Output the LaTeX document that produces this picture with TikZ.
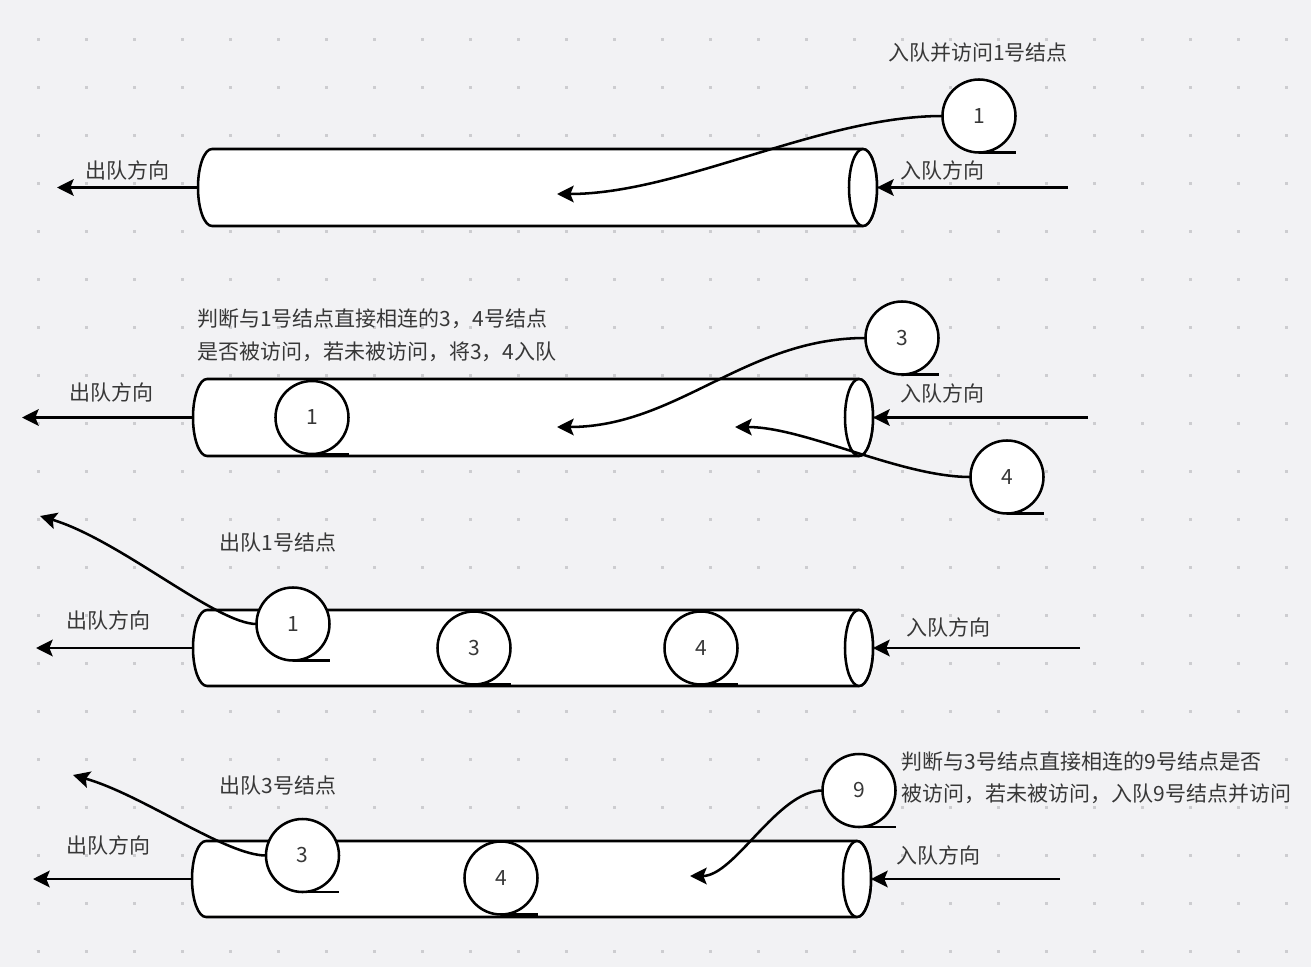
\documentclass[tikz,border=0pt]{standalone}
\usepackage{fontspec}
\setmainfont{Noto Sans CJK SC}
\usetikzlibrary{arrows.meta}
\definecolor{bgc}{RGB}{242,242,244}
\definecolor{dotc}{RGB}{205,205,208}
\definecolor{txtc}{RGB}{55,55,55}
\newcommand\qfont{\fontsize{15.75pt}{18pt}\selectfont}
% name, x left, x right, y top, y bottom (pixels, y downward)
\newcommand\qcyl[5]{%
  \draw[cylst] (#2+14,#4) -- (#3-14,#4)
    arc[start angle=270,end angle=450,x radius=14,y radius={(#5-#4)/2}]
    -- (#2+14,#5)
    arc[start angle=90,end angle=270,x radius=14,y radius={(#5-#4)/2}] -- cycle;
  \draw[cylst] (#3-14,{(#4+#5)/2}) ellipse[x radius=14,y radius={(#5-#4)/2}];
  \coordinate (#1l) at (#2,{(#4+#5)/2});
  \coordinate (#1r) at (#3,{(#4+#5)/2});
}
\newcommand\qtan[1]{\draw[lw] (#1.south) -- ++(36.5,0);}
\begin{document}
\begin{tikzpicture}[x=0.75pt,y=-0.75pt,
  lw/.style={line width=1.9pt},
  cylst/.style={lw,fill=white,line join=round},
  qc/.style={circle,draw,fill=white,line width=1.9pt,minimum size=54.75pt,inner sep=0pt,outer sep=0pt,text=txtc,font=\qfont},
  lab/.style={text=txtc,font=\qfont,inner sep=0pt},
  edge/.style={lw,-{Stealth[length=12.5pt,width=12.5pt,inset=2.5pt]}}]
\useasboundingbox (0,0) rectangle (1311,967);
\fill[bgc] (0,0) rectangle (1311,967);
\foreach \i in {0,...,26}{\foreach \j in {0,...,19}{%
  \fill[dotc] ({38.7+48*\i-1.5},{39.3+48*\j-1.5}) rectangle ++(3,3);}}

% ---------- row 1 ----------
\qcyl{A}{198}{877}{149}{226}
\coordinate (o1) at (57,187.5);
\coordinate (i1) at (1068,187.5);
\coordinate (t1) at (557,194);
\node[lab] (l1a) at (978,53) {入队并访问1号结点};
\node[lab] (l1b) at (127.5,170) {出队方向};
\node[lab] (l1c) at (942.5,170) {入队方向};
\draw[edge] (Al) -- (o1);
\draw[edge] (i1) -- (Ar);
\node[qc] (c1) at (979,116) {1};
\qtan{c1}
\draw[edge] (c1.west) .. controls +(-122,0) and +(123,0) .. (t1);

% ---------- row 2 ----------
\node[lab,align=left,anchor=west,font=\fontsize{15.75pt}{25pt}\selectfont] (l2a) at (197,335)
  {判断与1号结点直接相连的3，4号结点\\是否被访问，若未被访问，将3，4入队};
\qcyl{B}{193}{873}{379}{456}
\coordinate (o2) at (22,417.5);
\coordinate (i2) at (1088,417.5);
\coordinate (t2a) at (557,427);
\coordinate (t2b) at (735,427);
\node[lab] (l2b) at (111,392) {出队方向};
\node[lab] (l2c) at (942.5,393) {入队方向};
\node[qc] (b1) at (312,417.5) {1};
\qtan{b1}
\draw[edge] (Bl) -- (o2);
\draw[edge] (i2) -- (Br);
\node[qc] (b3) at (902,338) {3};
\qtan{b3}
\node[qc] (b4) at (1007,477) {4};
\qtan{b4}
\draw[edge] (b3.west) .. controls +(-120,0) and +(120,0) .. (t2a);
\draw[edge] (b4.west) .. controls +(-70,0) and +(70,0) .. (t2b);

% ---------- row 3 ----------
\qcyl{C}{193}{873}{610}{686}
\coordinate (o3) at (36,648);
\coordinate (i3) at (1080,648);
\coordinate (t3) at (40,516);
\node[lab] (l3a) at (278,543) {出队1号结点};
\node[lab] (l3b) at (108.7,620) {出队方向};
\node[lab] (l3c) at (948.5,627) {入队方向};
\node[qc] (d3) at (474,648) {3};
\qtan{d3}
\node[qc] (d4) at (701,648) {4};
\qtan{d4}
\draw[edge] (Cl) -- (o3);
\draw[edge] (i3) -- (Cr);
\node[qc] (d1) at (293,624) {1};
\qtan{d1}
\draw[edge] (d1.west) .. controls +(-40,0) and +(80,24) .. (t3);

% ---------- row 4 ----------
\qcyl{D}{192}{871}{841}{917}
\coordinate (o4) at (33,879);
\coordinate (i4) at (1060,879);
\coordinate (t4a) at (73,775);
\coordinate (t4b) at (690,876);
\node[lab] (l4a) at (278,786) {出队3号结点};
\node[lab] (l4b) at (108.7,845) {出队方向};
\node[lab] (l4c) at (938,855) {入队方向};
\node[lab,align=left,anchor=west,font=\fontsize{15.75pt}{23.7pt}\selectfont] (l4d) at (901.5,777.5)
  {判断与3号结点直接相连的9号结点是否\\被访问，若未被访问，入队9号结点并访问};
\node[qc] (e4) at (501,878) {4};
\qtan{e4}
\draw[edge] (Dl) -- (o4);
\draw[edge] (i4) -- (Dr);
\node[qc] (e3) at (302.5,855.5) {3};
\qtan{e3}
\draw[edge] (e3.west) .. controls +(-40,0) and +(70,20) .. (t4a);
\node[qc] (e9) at (859,790.5) {9};
\qtan{e9}
\draw[edge] (e9.west) .. controls +(-45,0) and +(45,0) .. (t4b);
\end{tikzpicture}
\end{document}
